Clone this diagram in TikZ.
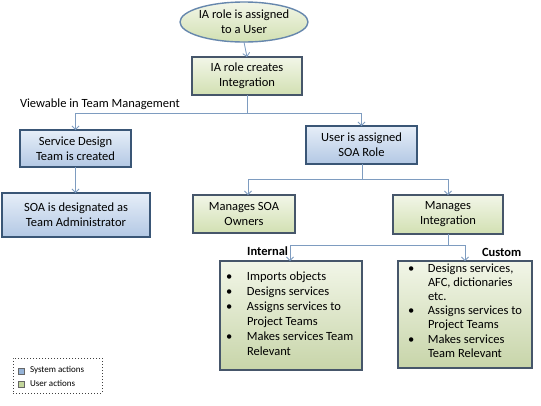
\documentclass[tikz,border=0pt]{standalone}
\usepackage{fontspec}
\setmainfont{Carlito}
\usetikzlibrary{arrows.meta,shapes.geometric}

\definecolor{lineC}{HTML}{7E9CC0}
\definecolor{blueTop}{HTML}{E6EEF8}
\definecolor{blueBot}{HTML}{B3C8E4}
\definecolor{blueBorder}{HTML}{3A5676}
\definecolor{greenTop}{HTML}{F2F6E8}
\definecolor{greenBot}{HTML}{D2E0B2}
\definecolor{greenBorder}{HTML}{46566A}
\definecolor{ellBorder}{HTML}{6687AD}
\definecolor{legBlue}{HTML}{95B3D7}
\definecolor{legGreen}{HTML}{C3D69B}

\newcommand{\bul}[1]{\makebox[#1][l]{\textbullet}}

\begin{document}
\begin{tikzpicture}[x=1pt,y=-1pt,
  every node/.style={font=\fontsize{12.5}{15}\selectfont, inner sep=0pt, outer sep=0pt},
  bluebox/.style={rectangle, draw=blueBorder, line width=1.5pt, top color=blueTop, bottom color=blueBot, align=center},
  greenbox/.style={rectangle, draw=greenBorder, line width=1.5pt, top color=greenTop, bottom color=greenBot, align=center},
  listbox/.style={rectangle, draw=greenBorder, line width=1.5pt, top color=greenTop, bottom color=greenBot!95!black},
  conn/.style={draw=lineC, line width=0.8pt, -{Straight Barb[length=3.5pt,width=7pt]}},
  plainline/.style={draw=lineC, line width=0.8pt},
  boldlabel/.style={font=\fontsize{12.5}{15}\selectfont\bfseries},
  legtext/.style={font=\fontsize{9}{11}\selectfont, anchor=west},
  legsq/.style={rectangle, draw=gray!80!black, line width=0.5pt, minimum size=6pt}]

\useasboundingbox (0,0) rectangle (541,405);
\fill[white] (0,0) rectangle (541,405);

% nodes
\node[ellipse, draw=ellBorder, line width=1.4pt, top color=greenTop, bottom color=greenBot, align=center,
      minimum width=128pt, minimum height=40pt] (start) at (244,22) {IA role is assigned\\to a User};
\node[greenbox, minimum width=110pt, minimum height=38pt] (iabox) at (247,76) {IA role creates\\Integration};
\node[anchor=west] (viewlabel) at (20,104) {Viewable in Team Management};
\node[bluebox, minimum width=111pt, minimum height=37pt] (sdbox) at (75.5,148.5) {Service Design\\Team is created};
\node[bluebox, minimum width=148pt, minimum height=44pt] (soabox) at (76,215) {SOA is designated as\\Team Administrator};
\node[bluebox, minimum width=111pt, minimum height=38pt] (userbox) at (361.5,145) {User is assigned\\SOA Role};
\node[greenbox, minimum width=102pt, minimum height=38pt] (mso) at (244,214) {Manages SOA\\Owners};
\node[greenbox, minimum width=110pt, minimum height=39pt] (mi) at (448,214.5) {Manages\\Integration};

\node[boldlabel, anchor=east] (intlabel) at (288,251) {Internal};
\node[boldlabel, anchor=west] (custlabel) at (482,252) {Custom};

\node[listbox, minimum width=142pt, minimum height=109pt] (internal) at (291,315.5) {};
\node[anchor=west, align=left, font=\fontsize{12.5}{15}\selectfont] (inttext) at (226,314) {%
\bul{21pt}Imports objects\\
\bul{21pt}Designs services\\
\bul{21pt}Assigns services to\\
\hspace*{21pt}Project Teams\\
\bul{21pt}Makes services Team\\
\hspace*{21pt}Relevant};

\node[listbox, minimum width=134pt, minimum height=107pt] (custom) at (465,314.5) {};
\node[anchor=west, align=left, font=\fontsize{12.5}{14.2}\selectfont] (custtext) at (408,310.5) {%
\bul{20pt}Designs services,\\
\hspace*{20pt}AFC, dictionaries\\
\hspace*{20pt}etc.\\
\bul{20pt}Assigns services to\\
\hspace*{20pt}Project Teams\\
\bul{20pt}Makes services\\
\hspace*{20pt}Team Relevant};

% legend
\node[rectangle, draw=black!75, dotted, line width=1pt, minimum width=89pt, minimum height=35pt] (legend) at (57.5,375.5) {};
\node[legsq, fill=legBlue] (sysq) at (21,371) {};
\node[legtext] (systext) at (30,370.5) {System actions};
\node[legsq, fill=legGreen] (usrq) at (21,384) {};
\node[legtext] (usrtext) at (30,383.5) {User actions};

% connectors
\draw[conn] (start.south) -- (iabox.north);
\coordinate (j1) at (247,113);
\draw[plainline] (iabox.south) -- (j1);
\draw[conn] (j1) -| (sdbox.north);
\draw[conn] (j1) -| (userbox.north);
\draw[conn] (sdbox.south) -- (sdbox.south |- soabox.north);

\coordinate (j2) at (362,179);
\draw[plainline] (userbox.south -| j2) -- (j2);
\draw[conn] (j2) -| ([xshift=4pt]mso.north);
\draw[conn] (j2) -| (mi.north);

\coordinate (j3) at (448,245);
\draw[plainline] (mi.south) -- (j3);
\draw[conn] (j3) -| ([xshift=-1pt]internal.north);
\draw[conn] (j3) -| (custom.north);
\end{tikzpicture}
\end{document}
